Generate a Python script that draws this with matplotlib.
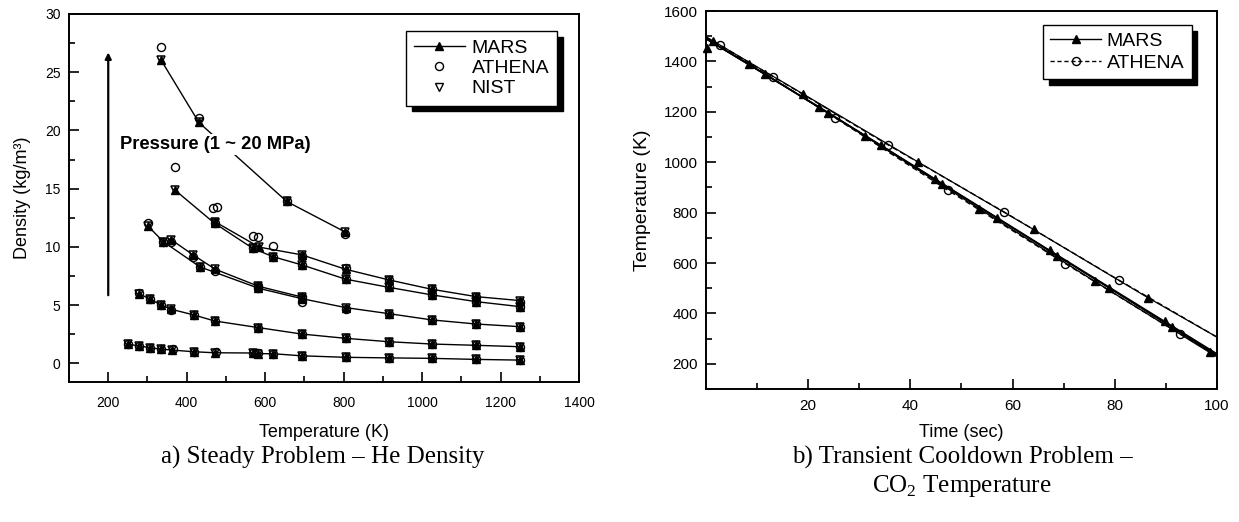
import matplotlib
matplotlib.use('Agg')
import matplotlib.pyplot as plt
from matplotlib.lines import Line2D
from matplotlib.ticker import MultipleLocator

plt.rcParams['font.family'] = ['Liberation Sans', 'DejaVu Sans']
plt.rcParams['mathtext.fontset'] = 'custom'
plt.rcParams['mathtext.rm'] = 'Liberation Serif'

# ---------------- a) Steady problem: He density ----------------
# curve A (lowest pressure)
T_A = [251, 279, 306, 334, 363, 418, 471, 568, 583, 619, 693, 805, 915, 1025, 1138, 1250]
MARS_A = [1.63, 1.51, 1.34, 1.23, 1.14, 1.00, 0.91, 0.89, 0.83, 0.83, 0.65, 0.52, 0.47, 0.43, 0.34, 0.28]
NIST_A = [1.63, 1.51, 1.34, 1.23, 1.14, 1.00, 0.91, 0.89, 0.83, 0.83, 0.65, 0.52, 0.47, 0.43, 0.34, 0.28]
ATH_T_A = [251, 279, 306, 334, 366, 418, 474, 568, 583, 619, 693, 805, 915, 1025, 1138, 1250]
ATH_A = [1.63, 1.51, 1.34, 1.23, 1.22, 1.00, 0.95, 0.89, 0.86, 0.83, 0.65, 0.52, 0.47, 0.43, 0.34, 0.28]
# curve B
T_B = [279, 306, 334, 361, 418, 471, 583, 693, 805, 915, 1025, 1138, 1250]
MARS_B = [5.96, 5.53, 5.02, 4.64, 4.16, 3.64, 3.07, 2.52, 2.15, 1.86, 1.66, 1.55, 1.43]
NIST_B = [5.96, 5.53, 5.02, 4.64, 4.16, 3.64, 3.07, 2.52, 2.15, 1.86, 1.66, 1.55, 1.43]
ATH_B = [6.02, 5.53, 5.02, 4.56, 4.16, 3.64, 3.07, 2.52, 2.15, 1.86, 1.66, 1.55, 1.43]
# curve C (two nearly coincident series)
T_C1 = [301, 340, 434, 583, 693, 805, 915, 1025, 1138, 1250]
MARS_C1 = [11.80, 10.46, 8.28, 6.45, 5.56, 4.79, 4.27, 3.73, 3.38, 3.15]
NIST_C1 = [11.80, 10.46, 8.28, 6.45, 5.56, 4.79, 4.27, 3.73, 3.38, 3.15]
ATH_C1 = [12.05, 10.46, 8.28, 6.45, 5.30, 4.70, 4.27, 3.73, 3.38, 3.10]
T_C2 = [361, 416, 473, 583, 693]
MARS_C2 = [10.61, 9.32, 8.08, 6.62, 5.70]
NIST_C2 = [10.61, 9.32, 8.08, 6.62, 5.70]
ATH_C2 = [10.40, 9.10, 7.95, 6.62, 5.70]
# curve D
T_D = [369, 471, 568, 619, 693, 805, 915, 1025, 1138, 1250]
MARS_D = [14.91, 12.03, 9.89, 9.17, 8.46, 7.23, 6.53, 5.88, 5.30, 4.87]
NIST_D = [14.91, 12.03, 9.89, 9.17, 8.46, 7.23, 6.53, 5.88, 5.30, 4.87]
ATH_D = [16.85, 12.03, 9.89, 9.17, 8.46, 7.23, 6.53, 5.88, 5.30, 4.87]
# curve E
T_E = [471, 585, 693, 805, 915, 1025, 1138, 1250]
MARS_E = [12.18, 9.98, 9.32, 8.08, 7.17, 6.36, 5.73, 5.39]
NIST_E = [12.18, 9.98, 9.32, 8.08, 7.17, 6.36, 5.73, 5.39]
ATH_T_E = [468, 478, 568, 583, 619, 693, 805, 915, 1025, 1138, 1250]
ATH_E = [13.35, 13.40, 10.95, 10.85, 10.10, 9.25, 8.15, 7.17, 6.36, 5.73, 5.30]
# curve F (highest pressure)
T_F = [334, 431, 655, 804]
MARS_F = [26.08, 20.69, 13.90, 11.28]
NIST_F = [26.08, 20.69, 13.90, 11.28]
ATH_F = [27.20, 21.05, 13.90, 11.10]

# ---------------- b) Transient cooldown: CO2 temperature ----------------
MARS_T1 = [0, 8.4, 31.1, 53.5, 76.1, 98.6, 100]
MARS_K1 = [1490, 1390, 1104, 815, 527, 245, 228]
MARS_T2 = [0, 11.5, 34.2, 56.9, 78.9, 100]
MARS_K2 = [1490, 1350, 1067, 779, 501, 232]
MARS_T3 = [0, 22.2, 44.8, 67.3, 89.8, 100]
MARS_K3 = [1490, 1219, 934, 650, 368, 240]
MARS_T4 = [0, 23.8, 46.1, 68.7, 91.3, 100]
MARS_K4 = [1490, 1197, 915, 629, 346, 236]
MARS_T5 = [0, 1.3, 18.9, 41.5, 64.1, 86.6, 100]
MARS_K5 = [1497, 1482, 1272, 1001, 733, 461, 306]
MARS_T0 = [0.2]
MARS_K0 = [1452]
ATH_T1 = [0, 2.7, 25.2, 47.4, 70.3, 92.8, 100]
ATH_K1 = [1495, 1465, 1177, 888, 598, 318, 232]
ATH_T2 = [0, 13.2, 35.7, 58.3, 80.9, 100]
ATH_K2 = [1497, 1339, 1068, 803, 531, 306]

fig = plt.figure(figsize=(12.39, 5.22), dpi=100)
ax1 = fig.add_axes([0.0557, 0.2682, 0.4116, 0.705])
ax2 = fig.add_axes([0.5698, 0.2548, 0.4124, 0.7241])

ms_tri = 6.4
ms_circ = 5.8

def draw_curve(ax, T, mars, nist, ath_T, ath):
    ax.plot(T, mars, '-', color='k', lw=1.0, marker='^', ms=ms_tri,
            mfc='k', mec='k', zorder=3)
    ax.plot(T, nist, ls='none', marker='v', ms=ms_tri, mfc='none',
            mec='k', mew=1.1, zorder=3)
    ax.plot(ath_T, ath, ls='none', marker='o', ms=ms_circ, mfc='none',
            mec='k', mew=1.0, zorder=3)

draw_curve(ax1, T_A, MARS_A, NIST_A, ATH_T_A, ATH_A)
draw_curve(ax1, T_B, MARS_B, NIST_B, T_B, ATH_B)
draw_curve(ax1, T_C1, MARS_C1, NIST_C1, T_C1, ATH_C1)
draw_curve(ax1, T_C2, MARS_C2, NIST_C2, T_C2, ATH_C2)
draw_curve(ax1, T_D, MARS_D, NIST_D, T_D, ATH_D)
draw_curve(ax1, T_E, MARS_E, NIST_E, ATH_T_E, ATH_E)
draw_curve(ax1, T_F, MARS_F, NIST_F, T_F, ATH_F)

ax1.text(229.5, 18.8, 'Pressure (1 ~ 20 MPa)', fontweight='bold',
         fontsize=13.2, va='center', ha='left', zorder=6,
         bbox=dict(fc='white', ec='none', pad=1.5))
ax1.annotate('', xy=(200, 26.7), xytext=(200, 5.85),
             arrowprops=dict(arrowstyle='-|>', lw=1.6, color='k',
                             mutation_scale=9, shrinkA=0, shrinkB=0))

ax1.set_xlim(100, 1400)
ax1.set_ylim(-1.6, 30)
ax1.xaxis.set_major_locator(MultipleLocator(200))
ax1.xaxis.set_minor_locator(MultipleLocator(100))
ax1.yaxis.set_major_locator(MultipleLocator(5))
ax1.yaxis.set_minor_locator(MultipleLocator(2.5))
ax1.set_xlabel('Temperature (K)', fontsize=13)
ax1.set_ylabel('Density (kg/m³)', fontsize=13)
ax1.xaxis.set_label_coords(0.5, -0.114)
ax1.yaxis.set_label_coords(-0.075, 0.5)

leg_handles1 = [
    Line2D([], [], color='k', lw=1.0, marker='^', ms=ms_tri, mfc='k'),
    Line2D([], [], ls='none', marker='o', ms=ms_circ, mfc='none', mec='k'),
    Line2D([], [], ls='none', marker='v', ms=ms_tri, mfc='none', mec='k'),
]
ax1.legend(leg_handles1, ['MARS', 'ATHENA', 'NIST'], loc='upper left',
           bbox_to_anchor=(406 / 1239, 1 - 31 / 522),
           bbox_transform=fig.transFigure, fontsize=14, fancybox=False,
           edgecolor='k', framealpha=1, handlelength=2.6, labelspacing=0.14,
           borderpad=0.42, handletextpad=0.35, borderaxespad=0,
           shadow={'ox': 4, 'oy': -4, 'facecolor': 'k', 'edgecolor': 'k', 'alpha': 1})

# right panel
for t, k in [(MARS_T1, MARS_K1), (MARS_T2, MARS_K2), (MARS_T3, MARS_K3),
             (MARS_T4, MARS_K4)]:
    ax2.plot(t, k, '-', color='k', lw=1.0, marker='^', ms=ms_tri, mfc='k',
             mec='k', markevery=list(range(1, len(t) - 1)), zorder=3)
ax2.plot(MARS_T5, MARS_K5, '-', color='k', lw=0.9, marker='^', ms=ms_tri,
         mfc='k', mec='k', markevery=list(range(1, len(MARS_T5) - 1)), zorder=3)
ax2.plot(MARS_T0, MARS_K0, ls='none', marker='^', ms=ms_tri, mfc='k',
         mec='k', zorder=3, clip_on=False)
for t, k in [(ATH_T1, ATH_K1), (ATH_T2, ATH_K2)]:
    ax2.plot(t, k, '--', color='k', lw=1.0, marker='o', ms=ms_circ,
             mfc='none', mec='k', markevery=list(range(1, len(t) - 1)),
             dashes=(4, 2.5), zorder=3)

ax2.set_xlim(0, 100)
ax2.set_ylim(100, 1600)
ax2.set_xticks([20, 40, 60, 80, 100])
ax2.set_xticks([10, 30, 50, 70, 90], minor=True)
ax2.yaxis.set_major_locator(MultipleLocator(200))
ax2.yaxis.set_minor_locator(MultipleLocator(100))
ax2.set_xlabel('Time (sec)', fontsize=13)
ax2.set_ylabel('Temperature (K)', fontsize=14)
ax2.xaxis.set_label_coords(0.5, -0.093)
ax2.yaxis.set_label_coords(-0.108, 0.5)

leg_handles2 = [
    Line2D([], [], color='k', lw=1.0, marker='^', ms=ms_tri, mfc='k'),
    Line2D([], [], color='k', lw=1.0, ls='--', dashes=(3, 2), marker='o',
           ms=ms_circ, mfc='none', mec='k'),
]
ax2.legend(leg_handles2, ['MARS', 'ATHENA'], loc='upper left',
           bbox_to_anchor=(1043 / 1239, 1 - 25 / 522),
           bbox_transform=fig.transFigure, fontsize=14, fancybox=False,
           edgecolor='k', framealpha=1, handlelength=2.6, labelspacing=0.22,
           borderpad=0.38, handletextpad=0.3, borderaxespad=0,
           shadow={'ox': 4, 'oy': -4, 'facecolor': 'k', 'edgecolor': 'k', 'alpha': 1})

for ax in (ax1, ax2):
    ax.tick_params(which='both', direction='in', top=False, right=False,
                   width=1.2)
    ax.tick_params(which='major', length=7)
    ax.tick_params(which='minor', length=4)
    for s in ax.spines.values():
        s.set_linewidth(1.4)
ax1.tick_params(axis='both', labelsize=10)
ax1.tick_params(axis='x', pad=10)
ax1.tick_params(axis='y', pad=6)
ax2.tick_params(axis='both', labelsize=11)
ax2.tick_params(axis='x', pad=7)
ax2.tick_params(axis='y', pad=6)

cap_kw = dict(family=['Liberation Serif', 'DejaVu Serif'], fontsize=18,
              ha='center', va='center')
fig.text(323 / 1239, 1 - 457 / 522, 'a) Steady Problem – He Density', **cap_kw)
fig.text(962 / 1239, 1 - 457 / 522, 'b) Transient Cooldown Problem –', **cap_kw)
fig.text(962 / 1239, 1 - 486 / 522, r'CO$_2$ Temperature', **cap_kw)

fig.savefig('out.png', dpi=100)
